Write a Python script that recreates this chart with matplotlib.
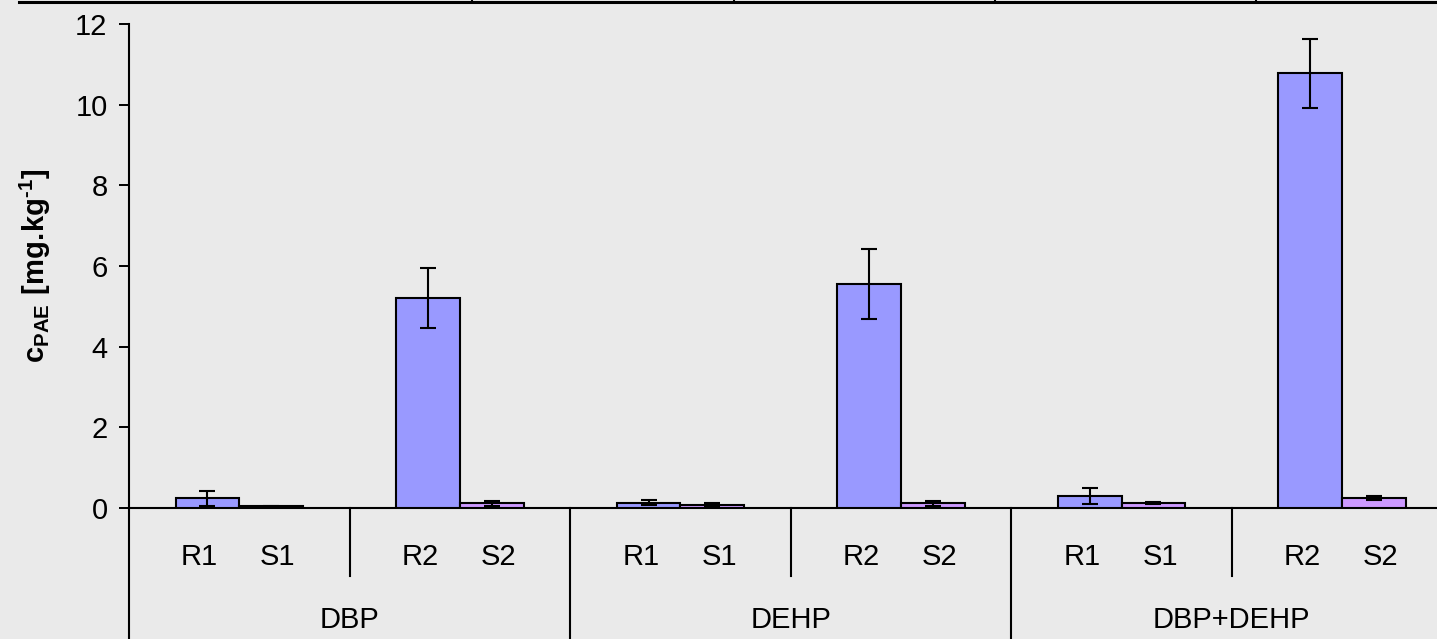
import matplotlib.pyplot as plt
import numpy as np
from matplotlib.lines import Line2D

## data (mg/kg)
groups = ["DBP", "DEHP", "DBP+DEHP"]
r_labels = ["R1", "R2", "R1", "R2", "R1", "R2"]
s_labels = ["S1", "S2", "S1", "S2", "S1", "S2"]
r_values = [0.24, 5.20, 0.13, 5.55, 0.30, 10.78]
r_errors = [0.19, 0.74, 0.06, 0.86, 0.19, 0.86]
s_values = [0.04, 0.12, 0.07, 0.12, 0.12, 0.24]
s_errors = [0.02, 0.06, 0.05, 0.06, 0.03, 0.05]
y_ticks = [0, 2, 4, 6, 8, 10, 12]

bg = "#EAEAEA"
plt.rcParams["font.family"] = ["Liberation Sans", "DejaVu Sans"]
plt.rcParams["mathtext.fontset"] = "custom"
plt.rcParams["mathtext.rm"] = "Liberation Sans"
plt.rcParams["mathtext.bf"] = "Liberation Sans:bold"

fig = plt.figure(figsize=(14.37, 6.39), dpi=100, facecolor=bg)
ax = fig.add_axes([0.0898, 0.205, 0.9102, 0.7574], facecolor=bg)

x = np.arange(len(r_values)) + 0.5
w = 0.289
err_kw = dict(ecolor="black", elinewidth=1.5, capsize=6, capthick=1.5)
ax.bar(x - w / 2, r_values, w, yerr=r_errors, color="#9999FF", edgecolor="black",
       linewidth=1.5, error_kw=err_kw, zorder=3)
ax.bar(x + w / 2, s_values, w, yerr=s_errors, color="#CC99FF", edgecolor="black",
       linewidth=1.5, error_kw=err_kw, zorder=3)

ax.set_ylim(0, 12)
ax.set_xlim(0, 5.93)
ax.set_yticks(y_ticks)
ax.tick_params(axis="y", labelsize=21, length=7.5, width=1.4, direction="out", pad=8)
ax.set_xticks([])
for s in ["top", "right"]:
    ax.spines[s].set_visible(False)
ax.spines["left"].set_linewidth(1.5)
ax.spines["bottom"].set_linewidth(1.5)

ax.set_ylabel("$\\mathbf{c_{PAE}\\ [mg.\\!kg^{\u2010 1}]}$", fontsize=21, labelpad=16)

## category labels and separators under the axis
trans = ax.get_xaxis_transform()
for i in range(len(r_values)):
    ax.text(i + 0.32, -0.101, r_labels[i], transform=trans, ha="center", va="center", fontsize=21)
    ax.text(i + 0.675, -0.101, s_labels[i], transform=trans, ha="center", va="center", fontsize=21)
for i in [1, 3, 5]:
    ax.plot([i, i], [0, -0.1405], transform=trans, color="black", lw=1.5, clip_on=False)
for i in [0, 2, 4, 6]:
    ax.plot([i, i], [0, -0.35], transform=trans, color="black", lw=1.5, clip_on=False)
for g, name in enumerate(groups):
    ax.text(2 * g + 1, -0.231, name, transform=trans, ha="center", va="center", fontsize=21)

## border line at the very top of the picture
fig.add_artist(Line2D([19 / 1437, 1], [1 - 1.5 / 639] * 2, transform=fig.transFigure,
                      color="black", lw=2.2))
for px in [472, 734, 995, 1256]:
    fig.add_artist(Line2D([px / 1437] * 2, [1 - 1.5 / 639, 1], transform=fig.transFigure,
                          color="black", lw=1.5))

fig.savefig("out.png", dpi=100, facecolor=bg)
